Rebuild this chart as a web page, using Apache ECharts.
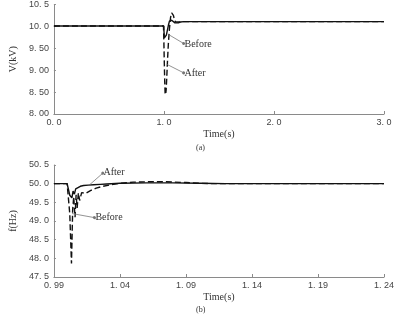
<!DOCTYPE html>
<html><head><meta charset="utf-8">
<script src="https://cdn.jsdelivr.net/npm/echarts@6/dist/echarts.min.js"></script>
<style>html,body{margin:0;padding:0;background:#fff}#c{width:399px;height:319px}</style>
</head><body><div id="c"></div>
<script>
// ---- Chart (a): voltage ----
const vTimeBefore = [0, 0.999, 1.0, 1.004, 1.009, 1.015, 1.022, 1.03, 1.04, 1.05, 1.06, 1.07, 1.085, 1.1, 1.115, 1.13, 1.15, 1.18, 1.25, 3.0];
const vBefore     = [10.01, 10.01, 9.9, 9.74, 9.70, 9.73, 9.80, 9.90, 10.02, 10.12, 10.15, 10.14, 10.10, 10.08, 10.07, 10.08, 10.10, 10.11, 10.11, 10.11];
const vTimeAfter  = [0, 0.996, 0.999, 1.003, 1.007, 1.011, 1.014, 1.017, 1.02, 1.025, 1.032, 1.04, 1.05, 1.06, 1.07, 1.078, 1.086, 1.095, 1.105, 1.12, 1.14, 1.17, 1.25, 3.0];
const vAfter      = [10.01, 10.01, 9.7, 9.2, 8.75, 8.45, 8.6, 8.48, 8.55, 8.8, 9.2, 9.6, 9.95, 10.2, 10.31, 10.31, 10.25, 10.16, 10.10, 10.08, 10.10, 10.11, 10.11, 10.11];
const vXTicks = [0, 1, 2, 3];
const vXLabels = ['0. 0', '1. 0', '2. 0', '3. 0'];
const vYTicks = [8, 8.5, 9, 9.5, 10, 10.5];
const vYLabels = ['8. 00', '8. 50', '9. 00', '9. 50', '10. 0', '10. 5'];

// ---- Chart (b): frequency ----
const fTimeAfter = [0.99, 1.0, 1.0012, 1.002, 1.0028, 1.0036, 1.0045, 1.0055, 1.0065, 1.008, 1.01, 1.0125, 1.016, 1.02, 1.025, 1.03, 1.04, 1.06, 1.08, 1.1, 1.12, 1.24];
const fAfter     = [50.0, 50.0, 50.0, 49.69, 49.72, 49.62, 49.8, 49.72, 49.86, 49.9, 49.93, 49.95, 49.96, 49.97, 49.98, 49.99, 50.01, 50.02, 50.02, 50.01, 50.0, 50.0];
const fTimeBefore = [0.99, 1.0, 1.0012, 1.002, 1.0033, 1.0042, 1.005, 1.006, 1.0068, 1.0076, 1.0085, 1.0095, 1.011, 1.014, 1.018, 1.022, 1.027, 1.033, 1.04, 1.05, 1.06, 1.075, 1.09, 1.1, 1.11, 1.24];
const fBefore     = [50.0, 50.0, 50.0, 49.2, 47.86, 49.3, 49.65, 49.1, 49.7, 49.35, 49.75, 49.55, 49.76, 49.74, 49.82, 49.88, 49.93, 49.97, 50.01, 50.04, 50.05, 50.05, 50.03, 50.01, 50.0, 50.0];
const fXTicks = [0.99, 1.04, 1.09, 1.14, 1.19, 1.24];
const fXLabels = ['0. 99', '1. 04', '1. 09', '1. 14', '1. 19', '1. 24'];
const fYTicks = [47.5, 48, 48.5, 49, 49.5, 50, 50.5];
const fYLabels = ['47. 5', '48. 0', '48. 5', '49. 0', '49. 5', '50. 0', '50. 5'];

// annotation leader lines: [point on curve] -> [text anchor]
const annoA = { before: [[1.045, 9.81], [1.179, 9.61]], after: [[1.03, 9.13], [1.179, 8.94]] };
const annoB = { after: [[1.017, 49.97], [1.027, 50.28]], before: [[1.0037, 49.2], [1.0207, 49.09]] };

const zip = (a, b) => a.map((x, i) => [x, b[i]]);
const labelMap = (ticks, labels) => v => { const i = ticks.findIndex(t => Math.abs(t - v) < 1e-6); return i >= 0 ? labels[i] : ''; };

const serif = 'Liberation Serif';
const sans = 'Liberation Sans';
const axisLineStyle = { color: '#8a8a8a', width: 1 };

function xAxis(gridIndex, min, max, ticks, labels) {
  return {
    type: 'value', gridIndex, min, max,
    name: 'Time(s)', nameLocation: 'middle', nameGap: 15,
    nameTextStyle: { fontFamily: serif, fontSize: 10, color: '#333' },
    axisLine: { show: true, lineStyle: axisLineStyle },
    axisTick: { show: true, inside: true, length: 3, lineStyle: axisLineStyle, customValues: ticks },
    axisLabel: { customValues: ticks, formatter: labelMap(ticks, labels), fontFamily: sans, fontSize: 9, color: '#444', margin: 4 },
    splitLine: { show: false }
  };
}
function yAxis(gridIndex, min, max, ticks, labels, name) {
  return {
    type: 'value', gridIndex, min, max,
    name, nameLocation: 'middle', nameGap: 31, nameRotate: 90,
    nameTextStyle: { fontFamily: serif, fontSize: 10, color: '#333' },
    axisLine: { show: true, lineStyle: axisLineStyle },
    axisTick: { show: true, inside: true, length: 2, lineStyle: axisLineStyle, customValues: ticks },
    axisLabel: { customValues: ticks, formatter: labelMap(ticks, labels), fontFamily: sans, fontSize: 9, color: '#444', margin: 5 },
    splitLine: { show: false }
  };
}
function leader(pts, text) {
  return [
    { coord: pts[0], symbol: 'none' },
    { coord: pts[1], symbol: 'circle', symbolSize: 3,
      label: { show: true, formatter: text, position: 'end', distance: 1, align: 'left', verticalAlign: 'middle',
               fontFamily: serif, fontSize: 10, color: '#333' } }
  ];
}
function markLine(pairs) {
  return {
    silent: true, animation: false,
    lineStyle: { color: '#777', width: 0.8, type: 'solid' },
    itemStyle: { color: '#222' },
    data: pairs
  };
}

const chart = echarts.init(document.getElementById('c'), null, { renderer: 'canvas' });
chart.setOption({
  animation: false,
  backgroundColor: '#fff',
  title: [
    { text: '(a)', left: 191, top: 139, textStyle: { fontFamily: serif, fontSize: 8, fontWeight: 'normal', color: '#333' } },
    { text: '(b)', left: 191, top: 301, textStyle: { fontFamily: serif, fontSize: 8, fontWeight: 'normal', color: '#333' } }
  ],
  grid: [
    { left: 48, right: 15, top: 2, height: 112 },
    { left: 50, right: 15, top: 165, height: 112 }
  ],
  xAxis: [xAxis(0, 0, 3, vXTicks, vXLabels), xAxis(1, 0.99, 1.24, fXTicks, fXLabels)],
  yAxis: [yAxis(0, 8, 10.5, vYTicks, vYLabels, 'V(kV)'), yAxis(1, 47.5, 50.5, fYTicks, fYLabels, 'f(Hz)')],
  series: [
    { name: 'After', type: 'line', xAxisIndex: 0, yAxisIndex: 0, data: zip(vTimeAfter, vAfter), showSymbol: false,
      lineStyle: { color: '#111', width: 1.4, type: [6, 3] },
      markLine: markLine([leader(annoA.after, 'After')]) },
    { name: 'Before', type: 'line', xAxisIndex: 0, yAxisIndex: 0, data: zip(vTimeBefore, vBefore), showSymbol: false,
      lineStyle: { color: '#111', width: 1.4 },
      markLine: markLine([leader(annoA.before, 'Before')]) },
    { name: 'Before', type: 'line', xAxisIndex: 1, yAxisIndex: 1, data: zip(fTimeBefore, fBefore), showSymbol: false,
      lineStyle: { color: '#111', width: 1.4, type: [6, 3] },
      markLine: markLine([leader(annoB.before, 'Before')]) },
    { name: 'After', type: 'line', xAxisIndex: 1, yAxisIndex: 1, data: zip(fTimeAfter, fAfter), showSymbol: false,
      lineStyle: { color: '#111', width: 1.4 },
      markLine: markLine([leader(annoB.after, 'After')]) }
  ]
});
</script>
</body></html>
